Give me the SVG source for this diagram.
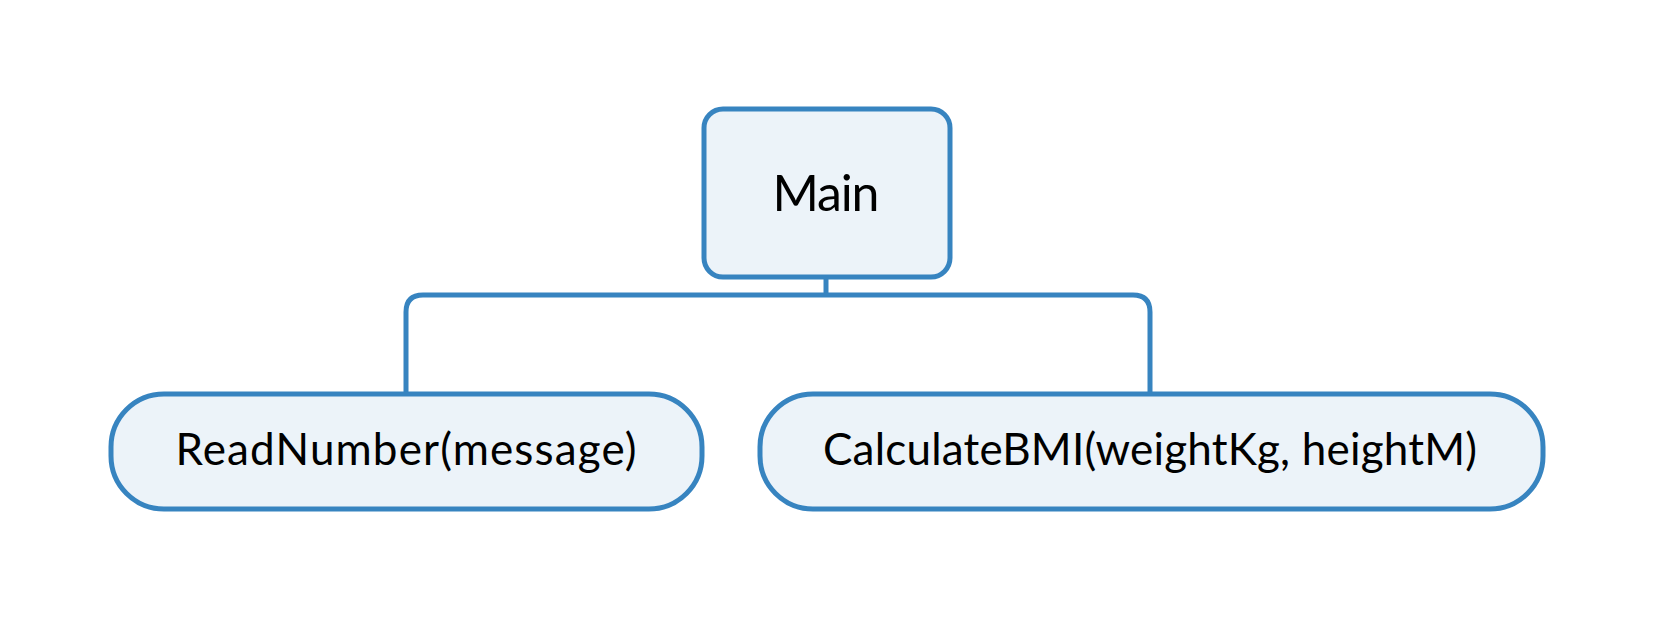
<svg xmlns="http://www.w3.org/2000/svg" width="1654" height="620" viewBox="0 0 1654 620">
<style>
.node{fill:#ECF3F9;stroke:#3784C0;stroke-width:5}
.edge{fill:none;stroke:#3784C0;stroke-width:5}
.lbl{font-family:Lato,"Open Sans","Liberation Sans",sans-serif;fill:#000;text-anchor:middle}
</style>
<rect width="1654" height="620" fill="#fff"/>
<g id="connectors">
<path class="edge" d="M826,276 V295"/>
<path class="edge" d="M406,393 V312 Q406,295 423,295 H1133 Q1150,295 1150,312 V393"/>
</g>
<g id="main">
<rect class="node" x="704" y="109" width="246" height="168" rx="19"/>
<text class="lbl" x="826" y="211" font-size="50" textLength="107">Main</text>
</g>
<g id="readnumber">
<rect class="node" x="111" y="394" width="591" height="115" rx="53"/>
<text class="lbl" x="406" y="465" font-size="44" textLength="461">ReadNumber(message)</text>
</g>
<g id="calculatebmi">
<rect class="node" x="760" y="394" width="783" height="115" rx="53"/>
<text class="lbl" x="1150" y="465" font-size="44" textLength="654">CalculateBMI(weightKg, heightM)</text>
</g>
</svg>
